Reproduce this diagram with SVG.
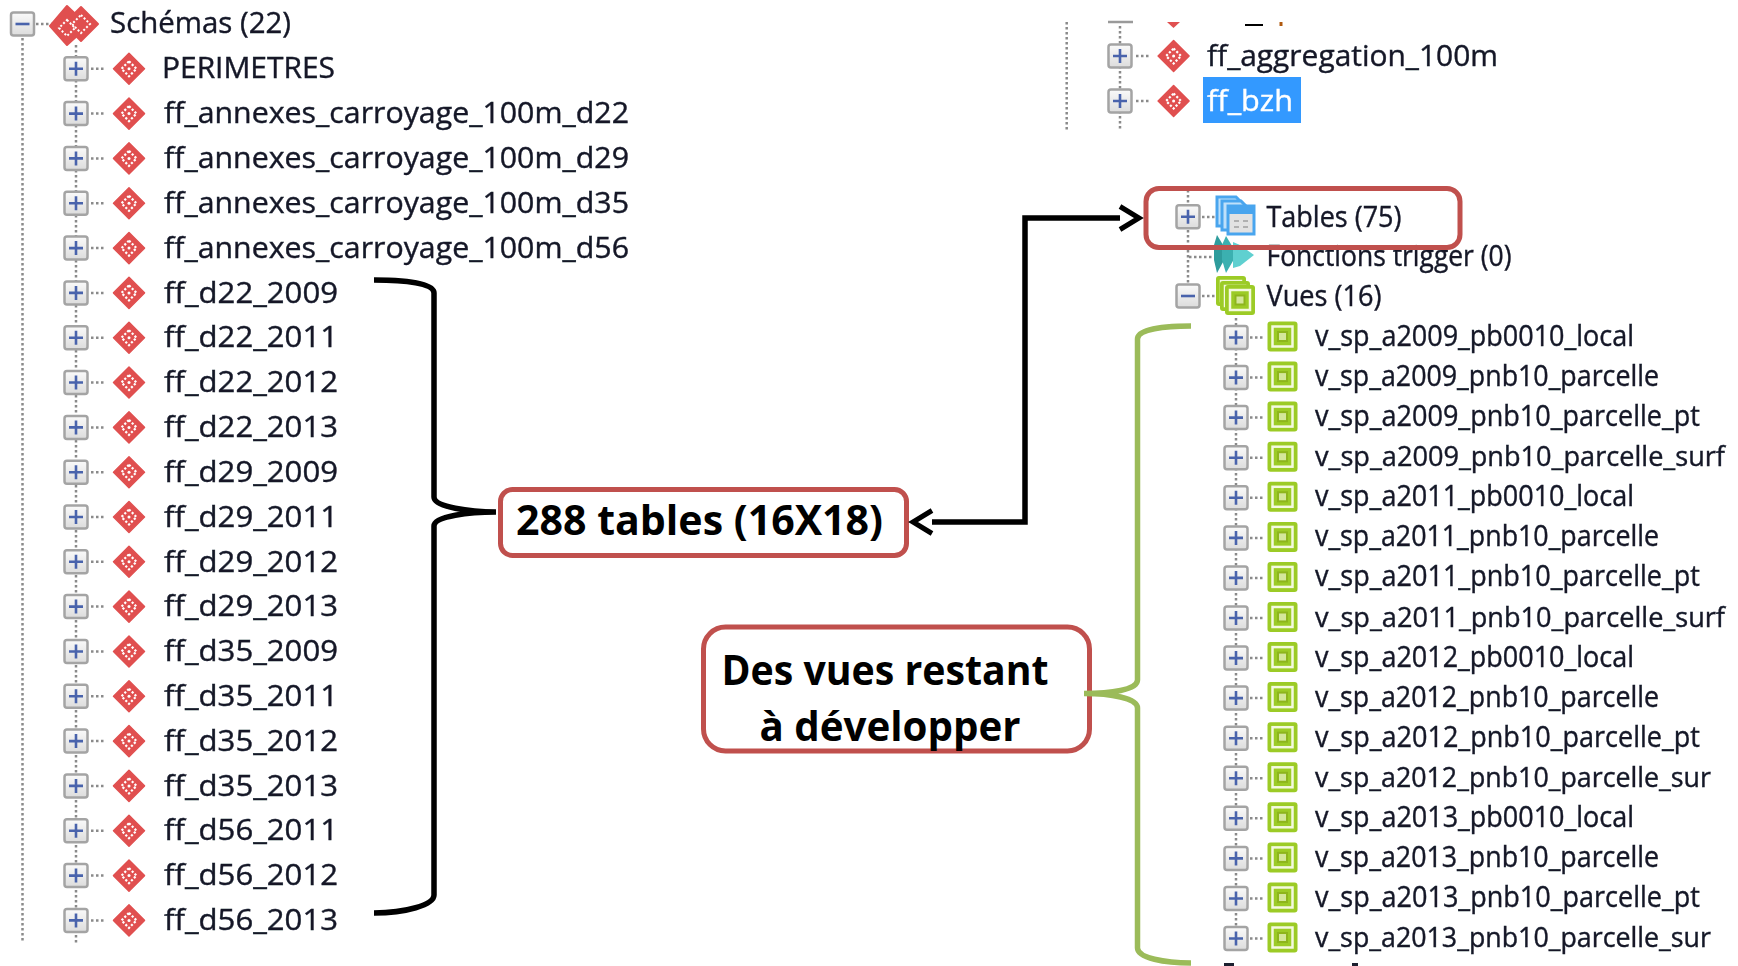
<svg xmlns="http://www.w3.org/2000/svg" width="1738" height="966" viewBox="0 0 1738 966">
<style>
text{font-family:"Open Sans","Noto Sans","Liberation Sans",sans-serif}
.t{font-size:29.500px;fill:#141828;stroke:#141828;stroke-width:.4;filter:url(#soft)}
.l{font-size:27.500px}
.c{font-size:42px;font-weight:700;fill:#000}
.dot{fill:none;stroke:#8a8a8a;stroke-width:2.5;stroke-dasharray:2.5 2.5}
.box{fill:#fff;stroke:#c0504d;stroke-width:5}
.bk{fill:none;stroke:#000;stroke-width:5.5}
.gr{fill:none;stroke:#9bbb59;stroke-width:5.5}
#plus,#minus,#dia,#vue,.soft{filter:url(#soft)}
</style>
<defs>
<filter id="soft" x="-10%" y="-30%" width="120%" height="160%"><feGaussianBlur stdDeviation="0.45"/></filter>
<linearGradient id="pg" x1="0" y1="0" x2="0" y2="1"><stop offset="0" stop-color="#fafafa"/><stop offset="1" stop-color="#dcdcdc"/></linearGradient>
<g id="plus"><rect x="-11.5" y="-11.5" width="23" height="23" rx="2.5" fill="url(#pg)" stroke="#a4a4a4" stroke-width="2.5"/><path d="M-7 0H7M0-7V7" stroke="#4a64ac" stroke-width="2.6" fill="none"/></g>
<g id="minus"><rect x="-11.5" y="-11.5" width="23" height="23" rx="2.5" fill="url(#pg)" stroke="#a4a4a4" stroke-width="2.5"/><path d="M-7 0H7" stroke="#4a64ac" stroke-width="2.6" fill="none"/></g>
<g id="dia"><path d="M0-15.500 15.500 0 0 15.500-15.500 0Z" fill="#e05050" stroke="#e05050" stroke-width="1.5" stroke-linejoin="round"/><path d="M0-7.500 7.500 0 0 7.500-7.500 0Z" fill="none" stroke="#fff" stroke-width="2.2" stroke-dasharray="2.2 1.800"/><circle r="1.5" fill="#fff"/></g>
<g id="vue"><rect x="-15" y="-15" width="30" height="30" rx="3" fill="#9ccb25"/><rect x="-10" y="-10" width="20" height="20" fill="none" stroke="#f4f9e0" stroke-width="2.5"/><rect x="-4.5" y="-4.5" width="9" height="9" fill="#d4e79a" stroke="#8db51f" stroke-width="2"/></g>
<marker id="chev" markerUnits="userSpaceOnUse" viewBox="-2 -14 26 28" refX="0" refY="0" markerWidth="26" markerHeight="28" orient="auto-start-reverse" overflow="visible"><path d="M0-11.500 19 0 0 11.500" fill="none" stroke="#000" stroke-width="5"/></marker>
</defs>
<rect width="1738" height="966" fill="#fff"/>

<g id="tree-lines">
<path class="dot" d="M22.500 38V943M76 45V943M1066.700 22V131M1120 26V131M1188 190V285M1236 318V950"/>
<path class="dot" d="M1189 257H1214"/>
</g>

<g id="root"><use href="#minus" x="22.500" y="24"/><path class="dot" d="M36 24H52"/>
<g class="soft"><path d="M67 6 88 26 67 45 50 26Z" fill="#e05050" stroke="#e05050" stroke-linejoin="round" stroke-width="2"/><path d="M81 7 98 24 81 41 64 24Z" fill="#e05050" stroke="#e05050" stroke-linejoin="round" stroke-width="2"/>
<path d="M81 15 90 24 81 33 72 24Z M67 20 75 28 67 36 59 28Z" fill="none" stroke="#fff" stroke-width="2" stroke-dasharray="2 2"/></g>
<text class="t" x="110" y="33" textLength="181" lengthAdjust="spacingAndGlyphs">Schémas (22)</text></g>

<g id="s1"><use href="#plus" x="76" y="68.800"/><path class="dot" d="M91 68.800H106"/><use href="#dia" x="129" y="68.800"/><text class="t" x="162" y="77.500" textLength="173" lengthAdjust="spacingAndGlyphs">PERIMETRES</text></g>
<g id="s2"><use href="#plus" x="76" y="113.600"/><path class="dot" d="M91 113.600H106"/><use href="#dia" x="129" y="113.600"/><text class="t" x="164" y="123.300" textLength="465" lengthAdjust="spacingAndGlyphs">ff_annexes_carroyage_100m_d22</text></g>
<g id="s3"><use href="#plus" x="76" y="158.400"/><path class="dot" d="M91 158.400H106"/><use href="#dia" x="129" y="158.400"/><text class="t" x="164" y="168.100" textLength="465" lengthAdjust="spacingAndGlyphs">ff_annexes_carroyage_100m_d29</text></g>
<g id="s4"><use href="#plus" x="76" y="203.300"/><path class="dot" d="M91 203.300H106"/><use href="#dia" x="129" y="203.300"/><text class="t" x="164" y="213" textLength="465" lengthAdjust="spacingAndGlyphs">ff_annexes_carroyage_100m_d35</text></g>
<g id="s5"><use href="#plus" x="76" y="248.100"/><path class="dot" d="M91 248.100H106"/><use href="#dia" x="129" y="248.100"/><text class="t" x="164" y="257.800" textLength="465" lengthAdjust="spacingAndGlyphs">ff_annexes_carroyage_100m_d56</text></g>
<g id="s6"><use href="#plus" x="76" y="292.900"/><path class="dot" d="M91 292.900H106"/><use href="#dia" x="129" y="292.900"/><text class="t" x="164" y="302.600" textLength="174" lengthAdjust="spacingAndGlyphs">ff_d22_2009</text></g>
<g id="s7"><use href="#plus" x="76" y="337.700"/><path class="dot" d="M91 337.700H106"/><use href="#dia" x="129" y="337.700"/><text class="t" x="164" y="347.400" textLength="174" lengthAdjust="spacingAndGlyphs">ff_d22_2011</text></g>
<g id="s8"><use href="#plus" x="76" y="382.500"/><path class="dot" d="M91 382.500H106"/><use href="#dia" x="129" y="382.500"/><text class="t" x="164" y="392.200" textLength="174" lengthAdjust="spacingAndGlyphs">ff_d22_2012</text></g>
<g id="s9"><use href="#plus" x="76" y="427.400"/><path class="dot" d="M91 427.400H106"/><use href="#dia" x="129" y="427.400"/><text class="t" x="164" y="437.100" textLength="174" lengthAdjust="spacingAndGlyphs">ff_d22_2013</text></g>
<g id="s10"><use href="#plus" x="76" y="472.200"/><path class="dot" d="M91 472.200H106"/><use href="#dia" x="129" y="472.200"/><text class="t" x="164" y="481.900" textLength="174" lengthAdjust="spacingAndGlyphs">ff_d29_2009</text></g>
<g id="s11"><use href="#plus" x="76" y="517"/><path class="dot" d="M91 517H106"/><use href="#dia" x="129" y="517"/><text class="t" x="164" y="526.700" textLength="174" lengthAdjust="spacingAndGlyphs">ff_d29_2011</text></g>
<g id="s12"><use href="#plus" x="76" y="561.800"/><path class="dot" d="M91 561.800H106"/><use href="#dia" x="129" y="561.800"/><text class="t" x="164" y="571.500" textLength="174" lengthAdjust="spacingAndGlyphs">ff_d29_2012</text></g>
<g id="s13"><use href="#plus" x="76" y="606.600"/><path class="dot" d="M91 606.600H106"/><use href="#dia" x="129" y="606.600"/><text class="t" x="164" y="616.300" textLength="174" lengthAdjust="spacingAndGlyphs">ff_d29_2013</text></g>
<g id="s14"><use href="#plus" x="76" y="651.500"/><path class="dot" d="M91 651.500H106"/><use href="#dia" x="129" y="651.500"/><text class="t" x="164" y="661.200" textLength="174" lengthAdjust="spacingAndGlyphs">ff_d35_2009</text></g>
<g id="s15"><use href="#plus" x="76" y="696.300"/><path class="dot" d="M91 696.300H106"/><use href="#dia" x="129" y="696.300"/><text class="t" x="164" y="706" textLength="174" lengthAdjust="spacingAndGlyphs">ff_d35_2011</text></g>
<g id="s16"><use href="#plus" x="76" y="741.100"/><path class="dot" d="M91 741.100H106"/><use href="#dia" x="129" y="741.100"/><text class="t" x="164" y="750.800" textLength="174" lengthAdjust="spacingAndGlyphs">ff_d35_2012</text></g>
<g id="s17"><use href="#plus" x="76" y="785.900"/><path class="dot" d="M91 785.900H106"/><use href="#dia" x="129" y="785.900"/><text class="t" x="164" y="795.600" textLength="174" lengthAdjust="spacingAndGlyphs">ff_d35_2013</text></g>
<g id="s18"><use href="#plus" x="76" y="830.700"/><path class="dot" d="M91 830.700H106"/><use href="#dia" x="129" y="830.700"/><text class="t" x="164" y="840.400" textLength="174" lengthAdjust="spacingAndGlyphs">ff_d56_2011</text></g>
<g id="s19"><use href="#plus" x="76" y="875.600"/><path class="dot" d="M91 875.600H106"/><use href="#dia" x="129" y="875.600"/><text class="t" x="164" y="885.300" textLength="174" lengthAdjust="spacingAndGlyphs">ff_d56_2012</text></g>
<g id="s20"><use href="#plus" x="76" y="920.400"/><path class="dot" d="M91 920.400H106"/><use href="#dia" x="129" y="920.400"/><text class="t" x="164" y="930.100" textLength="174" lengthAdjust="spacingAndGlyphs">ff_d56_2013</text></g>

<g id="top-clipped"><path d="M1108 22H1133" stroke="#9a9a9a" stroke-width="2.500"/><path d="M1167 22H1180L1173.500 28Z" fill="#e05050"/><path d="M1245 25H1263" stroke="#000" stroke-width="2"/><path d="M1281 22V26" stroke="#b05a10" stroke-width="3"/></g>
<g id="agg"><use href="#plus" x="1120" y="56"/><path class="dot" d="M1136 56H1149"/><use href="#dia" x="1173.600" y="56"/><text class="t" x="1207" y="65.500" textLength="291" lengthAdjust="spacingAndGlyphs">ff_aggregation_100m</text></g>
<g id="bzh"><use href="#plus" x="1120" y="101"/><path class="dot" d="M1136 101H1149"/><use href="#dia" x="1173.600" y="101"/><rect x="1203" y="77" width="98" height="46" fill="#3399ff"/><text class="t" x="1207" y="110.500" textLength="86" lengthAdjust="spacingAndGlyphs" style="fill:#fff;stroke:#fff">ff_bzh</text></g>

<g id="tables"><use href="#plus" x="1188" y="216.700"/><path class="dot" d="M1202 217H1215"/>
<g class="soft"><path d="M1217 197H1236L1245 206V226H1217Z" fill="#bfe0fa" stroke="#4aa5ee" stroke-width="3"/><path d="M1222 201H1241L1250 210V230H1222Z" fill="#bfe0fa" stroke="#4aa5ee" stroke-width="3"/>
<rect x="1228" y="206" width="26" height="28" fill="#e2e2e2" stroke="#4aa5ee" stroke-width="3"/><rect x="1228" y="206" width="26" height="8" fill="#4aa5ee"/><path d="M1234 221H1239M1243 221H1248M1234 227H1239M1243 227H1248" stroke="#b0b0b0" stroke-width="2"/></g>
<text class="t" x="1266.500" y="227" textLength="135" lengthAdjust="spacingAndGlyphs">Tables (75)</text></g>
<g id="triggers"><g class="soft"><path d="M1217 235 1228 253 1217 273 1214 260V245Z" fill="#2f9c9c"/><path d="M1226 236 1237 254 1226 273 1222 260V245Z" fill="#3ab0b0"/><path d="M1233 242 1240 245 1254 255 1240 266 1233 268Z" fill="#5fd0d0"/></g><text class="t" x="1266.500" y="266" textLength="245" lengthAdjust="spacingAndGlyphs">Fonctions trigger (0)</text></g>
<g id="vues"><use href="#minus" x="1188" y="296"/><path class="dot" d="M1202 296H1215"/>
<use href="#vue" x="1231" y="291"/><use href="#vue" x="1235" y="296"/><use href="#vue" x="1240" y="300"/><text class="t" x="1266.500" y="306" textLength="115" lengthAdjust="spacingAndGlyphs">Vues (16)</text></g>

<g id="v1"><use href="#plus" x="1236" y="337.500"/><path class="dot" d="M1250 337.500H1263"/><use href="#vue" x="1282.500" y="336.500"/><text class="t" x="1315" y="346" textLength="319" lengthAdjust="spacingAndGlyphs">v_sp_a2009_pb0010_local</text></g>
<g id="v2"><use href="#plus" x="1236" y="377.600"/><path class="dot" d="M1250 377.600H1263"/><use href="#vue" x="1282.500" y="376.600"/><text class="t" x="1315" y="386.100" textLength="344" lengthAdjust="spacingAndGlyphs">v_sp_a2009_pnb10_parcelle</text></g>
<g id="v3"><use href="#plus" x="1236" y="417.600"/><path class="dot" d="M1250 417.600H1263"/><use href="#vue" x="1282.500" y="416.600"/><text class="t" x="1315" y="426.100" textLength="385" lengthAdjust="spacingAndGlyphs">v_sp_a2009_pnb10_parcelle_pt</text></g>
<g id="v4"><use href="#plus" x="1236" y="457.700"/><path class="dot" d="M1250 457.700H1263"/><use href="#vue" x="1282.500" y="456.700"/><text class="t l" x="1315" y="466.200" textLength="410" lengthAdjust="spacingAndGlyphs">v_sp_a2009_pnb10_parcelle_surf</text></g>
<g id="v5"><use href="#plus" x="1236" y="497.800"/><path class="dot" d="M1250 497.800H1263"/><use href="#vue" x="1282.500" y="496.800"/><text class="t" x="1315" y="506.300" textLength="319" lengthAdjust="spacingAndGlyphs">v_sp_a2011_pb0010_local</text></g>
<g id="v6"><use href="#plus" x="1236" y="537.900"/><path class="dot" d="M1250 537.900H1263"/><use href="#vue" x="1282.500" y="536.900"/><text class="t" x="1315" y="546.400" textLength="344" lengthAdjust="spacingAndGlyphs">v_sp_a2011_pnb10_parcelle</text></g>
<g id="v7"><use href="#plus" x="1236" y="577.900"/><path class="dot" d="M1250 577.900H1263"/><use href="#vue" x="1282.500" y="576.900"/><text class="t" x="1315" y="586.400" textLength="385" lengthAdjust="spacingAndGlyphs">v_sp_a2011_pnb10_parcelle_pt</text></g>
<g id="v8"><use href="#plus" x="1236" y="618"/><path class="dot" d="M1250 618H1263"/><use href="#vue" x="1282.500" y="617"/><text class="t l" x="1315" y="626.500" textLength="410" lengthAdjust="spacingAndGlyphs">v_sp_a2011_pnb10_parcelle_surf</text></g>
<g id="v9"><use href="#plus" x="1236" y="658.100"/><path class="dot" d="M1250 658.100H1263"/><use href="#vue" x="1282.500" y="657.100"/><text class="t" x="1315" y="666.600" textLength="319" lengthAdjust="spacingAndGlyphs">v_sp_a2012_pb0010_local</text></g>
<g id="v10"><use href="#plus" x="1236" y="698.100"/><path class="dot" d="M1250 698.100H1263"/><use href="#vue" x="1282.500" y="697.100"/><text class="t" x="1315" y="706.600" textLength="344" lengthAdjust="spacingAndGlyphs">v_sp_a2012_pnb10_parcelle</text></g>
<g id="v11"><use href="#plus" x="1236" y="738.200"/><path class="dot" d="M1250 738.200H1263"/><use href="#vue" x="1282.500" y="737.200"/><text class="t" x="1315" y="746.700" textLength="385" lengthAdjust="spacingAndGlyphs">v_sp_a2012_pnb10_parcelle_pt</text></g>
<g id="v12"><use href="#plus" x="1236" y="778.300"/><path class="dot" d="M1250 778.300H1263"/><use href="#vue" x="1282.500" y="777.300"/><text class="t l" x="1315" y="786.800" textLength="396" lengthAdjust="spacingAndGlyphs">v_sp_a2012_pnb10_parcelle_sur</text></g>
<g id="v13"><use href="#plus" x="1236" y="818.300"/><path class="dot" d="M1250 818.300H1263"/><use href="#vue" x="1282.500" y="817.300"/><text class="t" x="1315" y="826.800" textLength="319" lengthAdjust="spacingAndGlyphs">v_sp_a2013_pb0010_local</text></g>
<g id="v14"><use href="#plus" x="1236" y="858.400"/><path class="dot" d="M1250 858.400H1263"/><use href="#vue" x="1282.500" y="857.400"/><text class="t" x="1315" y="866.900" textLength="344" lengthAdjust="spacingAndGlyphs">v_sp_a2013_pnb10_parcelle</text></g>
<g id="v15"><use href="#plus" x="1236" y="898.500"/><path class="dot" d="M1250 898.500H1263"/><use href="#vue" x="1282.500" y="897.500"/><text class="t" x="1315" y="907" textLength="385" lengthAdjust="spacingAndGlyphs">v_sp_a2013_pnb10_parcelle_pt</text></g>
<g id="v16"><use href="#plus" x="1236" y="938.500"/><path class="dot" d="M1250 938.500H1263"/><use href="#vue" x="1282.500" y="937.500"/><text class="t l" x="1315" y="947" textLength="396" lengthAdjust="spacingAndGlyphs">v_sp_a2013_pnb10_parcelle_sur</text></g>
<g id="bottom-clipped"><path d="M1224 964.500H1234M1352 964.500H1358" stroke="#1c2030" stroke-width="3"/></g>

<g id="box-tables"><rect x="1146" y="188.500" width="314" height="59" rx="13" fill="none" stroke="#c0504d" stroke-width="5"/></g>
<g id="box-288"><rect class="box" x="500.500" y="489.500" width="406" height="66" rx="12"/><text class="c" x="516" y="534.500" textLength="367" lengthAdjust="spacingAndGlyphs">288 tables (16X18)</text></g>
<g id="box-vues"><rect class="box" x="703.500" y="627" width="386" height="124" rx="22"/><text class="c" x="721.500" y="684.500" textLength="327" lengthAdjust="spacingAndGlyphs">Des vues restant</text><text class="c" x="759.500" y="741" textLength="261" lengthAdjust="spacingAndGlyphs">à développer</text></g>

<g id="connectors">
<path class="bk" d="M374 280C405 280 434 283 434 293V497C434 507 470 512 496 512C470 512 434 516 434 526V895C434 905 405 913 374 913"/>
<path class="bk" d="M932 522H1025V218H1120" marker-start="url(#chev)" marker-end="url(#chev)"/>
<path class="gr" d="M1191 326C1165 326 1137.500 329 1137.500 339V680C1137.500 690 1110 693.500 1084 693.500C1110 693.500 1137.500 698 1137.500 708V948C1137.500 958 1165 963 1191 963"/>
</g>
</svg>
